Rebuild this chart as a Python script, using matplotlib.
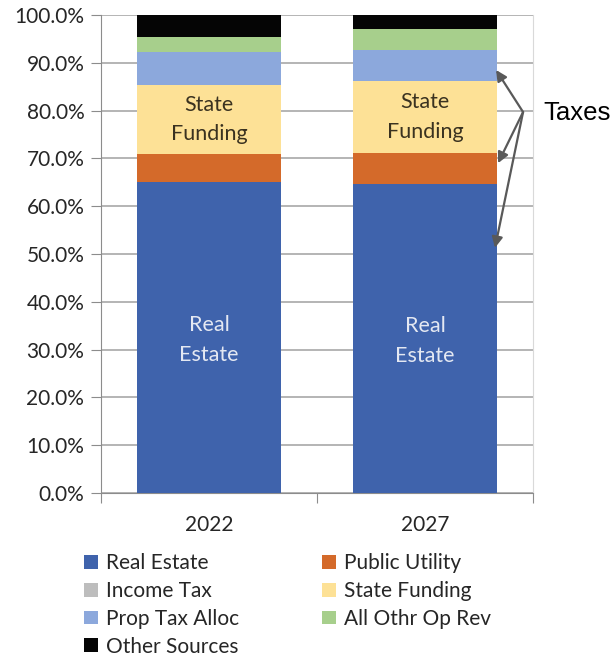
import matplotlib
matplotlib.use('Agg')
from matplotlib import pyplot as plt
from matplotlib.ticker import FuncFormatter
import numpy as np

plt.rcParams['font.family'] = ['Lato', 'DejaVu Sans']

years = ['2022', '2027']
sources = ['Real Estate', 'Public Utility', 'Income Tax', 'State Funding',
           'Prop Tax Alloc', 'All Othr Op Rev', 'Other Sources']
# share of revenue, percent
real_estate = [65.1, 64.6]
public_utility = [5.8, 6.5]
income_tax = [0.0, 0.0]
state_funding = [14.5, 15.1]
prop_tax_alloc = [6.9, 6.5]
all_othr_op_rev = [3.1, 4.4]
other_sources = [4.6, 2.9]

colors = ['#3F63AC', '#D46A2A', '#BDBDBD', '#FDE196', '#8CA8DC', '#A7CF8C', '#050505']
series = [real_estate, public_utility, income_tax, state_funding,
          prop_tax_alloc, all_othr_op_rev, other_sources]

fig = plt.figure(figsize=(6.14, 6.59), dpi=100)
ax = fig.add_axes([0.1645, 0.2519, 0.7036, 0.7253])

x = np.arange(len(years))
bottom = np.zeros(len(years))
bars = []
for name, vals, c in zip(sources, series, colors):
    b = ax.bar(x, vals, 0.667, bottom=bottom, color=c, label=name, zorder=3)
    bars.append(b)
    bottom += np.array(vals)

# labels inside the big segments
for i in range(len(years)):
    ax.text(x[i], real_estate[i] / 2 - 0.5, 'Real\nEstate', ha='center', va='center',
            color='#E4E8F2', fontsize=15.5, linespacing=1.6, zorder=4)
    sf_mid = real_estate[i] + public_utility[i] + income_tax[i] + state_funding[i] / 2
    ax.text(x[i], sf_mid, 'State\nFunding', ha='center', va='center',
            color='#3A3220', fontsize=15.5, linespacing=1.6, zorder=4)

ax.set_xlim(-0.5, 1.5)
ax.set_ylim(0, 100)
ax.set_yticks(np.arange(0, 101, 10))
ax.yaxis.set_major_formatter(FuncFormatter(lambda v, p: '%.1f%%' % v))
ax.set_xticks([-0.5, 0.5, 1.5])
ax.set_xticklabels([])
ax.set_xticks(x, minor=True)
ax.set_xticklabels(years, minor=True)
ax.tick_params(axis='x', which='minor', length=0, pad=16, labelsize=15, labelcolor='#262626')
ax.tick_params(axis='x', which='major', length=7, color='#8C8C8C', direction='out')
ax.tick_params(axis='y', length=7, color='#8C8C8C', labelsize=15, labelcolor='#262626', pad=5)
ax.grid(axis='y', color='#A0A0A0', linewidth=1.1, zorder=0)

for s in ['left', 'bottom']:
    ax.spines[s].set_color('#8C8C8C')
ax.spines['top'].set_visible(False)
ax.spines['right'].set_color('#D9D9D9')

# arrows pointing at the tax segments
for tip in [(1.329, 88.5), (1.338, 69.0), (1.324, 51.3)]:
    ax.annotate('', xy=tip, xytext=(1.454, 79.7), annotation_clip=False,
                arrowprops=dict(arrowstyle='-|>', color='#595959', lw=1.6,
                                mutation_scale=16, shrinkA=0, shrinkB=0), zorder=5)
fig.text(543 / 614, 1 - 113 / 659, 'Taxes', family='Liberation Sans', fontsize=18.5,
         ha='left', va='center', color='black')

order = [0, 2, 4, 6, 1, 3, 5]
handles = [bars[i] for i in order]
labels = [sources[i] for i in order]
fig.legend(handles, labels, ncol=2, loc='upper left', bbox_to_anchor=(84 / 614, 1 - 553 / 659),
           frameon=False, fontsize=15, handlelength=0.65, handleheight=0.65,
           handletextpad=0.4, columnspacing=4.0, labelspacing=0.38,
           borderpad=0, borderaxespad=0, labelcolor='#262626')

fig.savefig('out.png', dpi=100)
